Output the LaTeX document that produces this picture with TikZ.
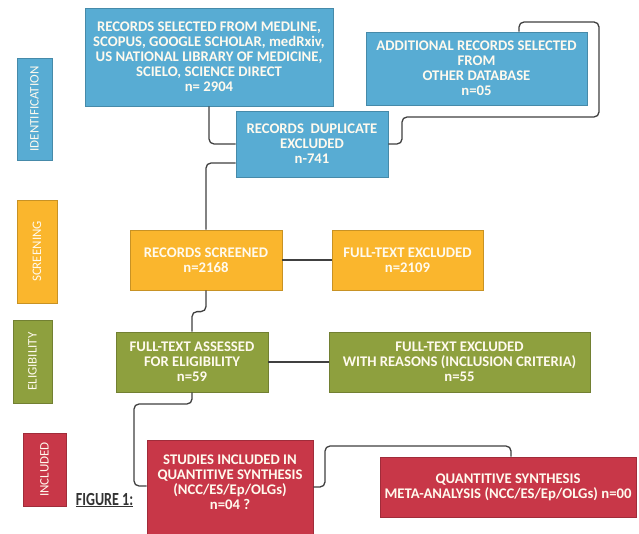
\documentclass[tikz,border=0pt]{standalone}
\usepackage{fontspec}
\setmainfont{Carlito}
\usepackage{tikz}
\usetikzlibrary{positioning}
\definecolor{idblue}{RGB}{88,172,211}
\definecolor{scrorange}{RGB}{250,182,45}
\definecolor{eligreen}{RGB}{142,160,62}
\definecolor{incred}{RGB}{200,55,72}
\definecolor{linkgray}{RGB}{64,64,64}
\definecolor{textcream}{RGB}{255,250,238}

\begin{document}
\begin{tikzpicture}[x=1pt, y=-1pt,
    box/.style={draw=#1!80!black, fill=#1, line width=0.8pt, text=textcream,
        font=\fontsize{14.7}{15}\selectfont\bfseries, align=center, inner sep=0pt},
    phase/.style={draw=#1!80!black, fill=#1, line width=0.8pt, text=textcream,
        font=\fontsize{13}{14}\selectfont, rotate=90, inner sep=0pt},
    link/.style={draw=linkgray, line width=1.3pt, rounded corners=5pt}]
    % Page frame
    \useasboundingbox (0,0) rectangle (639,534);
    \fill[white] (0,0) rectangle (639,534);

    % Phase labels on the left
    \node[phase=idblue, minimum width=102pt, minimum height=35pt] (identification) at (34.5,109) {IDENTIFICATION};
    \node[phase=scrorange, minimum width=103pt, minimum height=40pt] (screening) at (37,251.5) {SCREENING};
    \node[phase=eligreen, minimum width=83pt, minimum height=39pt] (eligibility) at (32.5,361.5) {ELIGIBILITY};
    \node[phase=incred, minimum width=73pt, minimum height=43pt] (included) at (44.5,469.5) {INCLUDED};

    % Identification boxes
    \node[box=idblue, minimum width=248pt, minimum height=98pt] (records) at (209,57)
        {RECORDS SELECTED FROM MEDLINE,\\SCOPUS, GOOGLE SCHOLAR, medRxiv,\\US NATIONAL LIBRARY OF MEDICINE,\\SCIELO, SCIENCE DIRECT\\n= 2904};
    \node[box=idblue, minimum width=221pt, minimum height=73pt] (additional) at (476.5,68.5)
        {ADDITIONAL RECORDS SELECTED\\FROM\\OTHER DATABASE\\n=05};
    \node[box=idblue, minimum width=152pt, minimum height=66pt] (duplicate) at (312,144)
        {RECORDS\ \ DUPLICATE\\EXCLUDED\\n-741};

    % Screening boxes
    \node[box=scrorange, minimum width=152pt, minimum height=60pt] (screened) at (206,260)
        {RECORDS SCREENED\\n=2168};
    \node[box=scrorange, minimum width=151pt, minimum height=60pt] (ftexcluded) at (407.5,260)
        {FULL-TEXT EXCLUDED\\n=2109};

    % Eligibility boxes
    \node[box=eligreen, minimum width=152pt, minimum height=60pt] (assessed) at (192,362)
        {FULL-TEXT ASSESSED\\FOR ELIGIBILITY\\n=59};
    \node[box=eligreen, minimum width=261pt, minimum height=60pt] (reasons) at (459.5,362)
        {FULL-TEXT EXCLUDED\\WITH REASONS (INCLUSION CRITERIA)\\n=55};

    % Included boxes
    \node[box=incred, minimum width=166pt, minimum height=100pt,
        label={[box=incred, draw=none, yshift=7.5pt]center:{STUDIES INCLUDED IN\\QUANTITIVE SYNTHESIS\\(NCC/ES/Ep/OLGs)\\n=04 ?}}]
        (studies) at (230,490) {};
    \node[box=incred, minimum width=256pt, minimum height=60pt] (meta) at (508,487)
        {QUANTITIVE SYNTHESIS\\META-ANALYSIS (NCC/ES/Ep/OLGs) n=00};

    % Caption
    \node[text={rgb,255:red,51;green,51;blue,51}, font=\fontsize{18.5}{19}\selectfont\bfseries] (caption) at (104.5,500)
        {\scalebox{0.76}[1]{\underline{FIGURE 1:}}};

    % Connectors
    \draw[link] (records.south) |- (duplicate.west);
    \draw[link] ([xshift=42.5pt]additional.north) |- (599,22) |- (402,117) |- (duplicate.east);
    \draw[link] ([yshift=-19pt]duplicate.west) -| (screened.north);
    \draw[link] (screened.east) -- (screened.east -| ftexcluded.west);
    \draw[link] (screened.south) |- ([yshift=20pt]assessed.north) -- (assessed.north);
    \draw[link] (assessed.east) -- (assessed.east -| reasons.west);
    \draw[link] (assessed.south) |- (134,404) |- ([yshift=4pt]studies.west);
    \draw[link] ([yshift=3pt]studies.east) -| (325,446) -| ([xshift=3pt]meta.north);
\end{tikzpicture}
\end{document}
